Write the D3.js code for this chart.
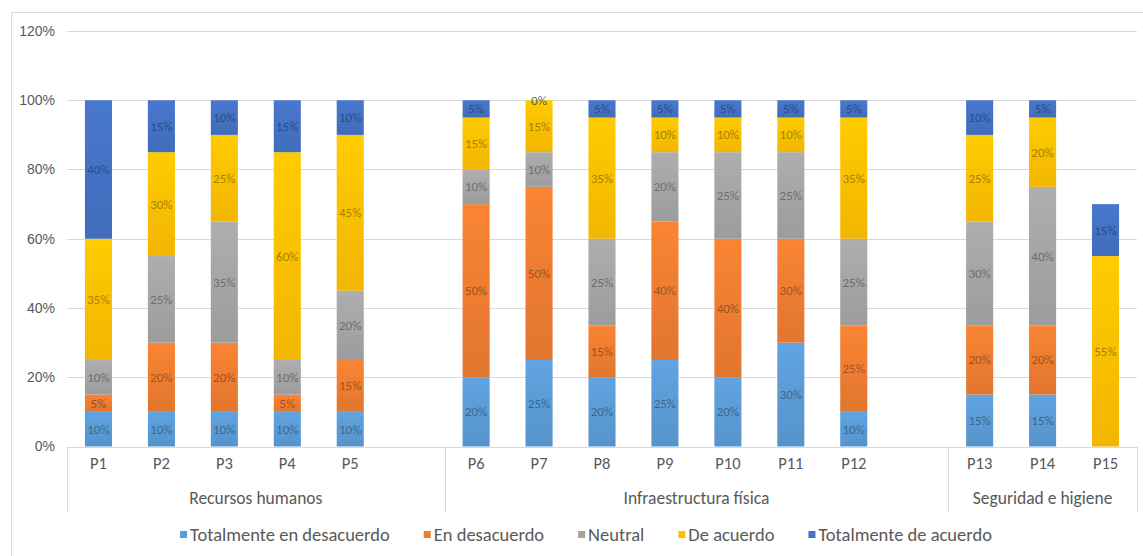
<!DOCTYPE html>
<html>
<head>
<meta charset="utf-8">
<script src="https://cdn.jsdelivr.net/npm/d3@7"></script>
<style>
  body { margin: 0; background: #fff; }
  svg { display: block; font-family: Carlito, "Liberation Sans", Arial, sans-serif; }
</style>
</head>
<body>
<svg id="chart" width="1143" height="556"></svg>
<script>
// data
const questions = ["P1", "P2", "P3", "P4", "P5", "P6", "P7", "P8", "P9", "P10", "P11", "P12", "P13", "P14", "P15"];
const groupNames = ["Recursos humanos", "Infraestructura física", "Seguridad e higiene"];
const groupSizes = [5, 7, 3];
const seriesNames = ["Totalmente en desacuerdo", "En desacuerdo", "Neutral", "De acuerdo", "Totalmente de acuerdo"];
const totDesacuerdo = [10, 10, 10, 10, 10, 20, 25, 20, 25, 20, 30, 10, 15, 15, null];
const enDesacuerdo = [5, 20, 20, 5, 15, 50, 50, 15, 40, 40, 30, 25, 20, 20, null];
const neutral = [10, 25, 35, 10, 20, 10, 10, 25, 20, 25, 25, 25, 30, 40, null];
const deAcuerdo = [35, 30, 25, 60, 45, 15, 15, 35, 10, 10, 10, 35, 25, 20, 55];
const totAcuerdo = [40, 15, 10, 15, 10, 5, 0, 5, 5, 5, 5, 5, 10, 5, 15];
const yTicks = [0, 0.2, 0.4, 0.6, 0.8, 1.0, 1.2];
const colors = ["#5b9bd5", "#ed7d31", "#a5a5a5", "#ffc000", "#4472c4"];

const series = [totDesacuerdo, enDesacuerdo, neutral, deAcuerdo, totAcuerdo];

// slots: each group followed by an empty slot (except last)
const slots = [];
let qi = 0;
groupSizes.forEach((n, g) => {
  for (let k = 0; k < n; k++) { slots.push(questions[qi]); qi++; }
  if (g < groupSizes.length - 1) slots.push("_blank" + g);
});

const svg = d3.select("#chart");
const pl = 67, pr = 1137, pt = 31, pb = 446.5;

const x = d3.scaleBand().domain(slots).range([pl, pr]).paddingInner(0.57).paddingOuter(0.285);
const y = d3.scaleLinear().domain([0, 1.2]).range([pb, pt]);

// chart border
svg.append("rect")
  .attr("x", 11.5).attr("y", 12.5).attr("width", 1150).attr("height", 560)
  .attr("fill", "#fff").attr("stroke", "#d9d9d9");

// gridlines
svg.append("g")
  .selectAll("line")
  .data(yTicks.filter(d => d > 0))
  .join("line")
  .attr("x1", pl).attr("x2", pr)
  .attr("y1", d => Math.round(y(d)) + 0.5).attr("y2", d => Math.round(y(d)) + 0.5)
  .attr("stroke", "#d9d9d9");

// y axis labels
const yaxis = d3.axisLeft(y).tickValues(yTicks).tickFormat(d3.format(".0%")).tickSize(0).tickPadding(12);
const yg = svg.append("g").attr("transform", `translate(${pl},0)`).call(yaxis);
yg.select(".domain").remove();
yg.selectAll("text").attr("fill", "#595959").attr("font-size", 14).attr("font-family", "inherit");

// gradients per series
const defs = svg.append("defs");
colors.forEach((c, i) => {
  const gr = defs.append("linearGradient").attr("id", "grad" + i)
    .attr("x1", 0).attr("y1", 0).attr("x2", 0).attr("y2", 1);
  gr.append("stop").attr("offset", "0%").attr("stop-color", d3.color(c).brighter(0.15));
  gr.append("stop").attr("offset", "100%").attr("stop-color", d3.color(c).darker(0.15));
});

// stacked data
const rows = questions.map((q, i) => {
  const r = { q };
  series.forEach((s, k) => { r[k] = s[i]; });
  return r;
});
const stack = d3.stack().keys(d3.range(series.length)).value((d, k) => (d[k] || 0) / 100);
const stacked = stack(rows);

const layers = svg.append("g").selectAll("g")
  .data(stacked)
  .join("g")
  .attr("fill", (d, i) => `url(#grad${i})`);

layers.selectAll("rect")
  .data(d => d)
  .join("rect")
  .attr("x", d => x(d.data.q))
  .attr("width", x.bandwidth())
  .attr("y", d => y(d[1]))
  .attr("height", d => y(d[0]) - y(d[1]));

// data labels
const labels = svg.append("g").attr("text-anchor", "middle").attr("font-size", 13);
stacked.forEach((layer, i) => {
  labels.selectAll(null)
    .data(layer.filter((d, j) => series[i][j] !== null))
    .join("text")
    .attr("x", d => x(d.data.q) + x.bandwidth() / 2)
    .attr("y", d => (y(d[0]) + y(d[1])) / 2)
    .attr("dy", "0.35em")
    .attr("fill", d3.color(colors[i]).darker(1.6))
    .attr("fill-opacity", 0.8)
    .text(d => d3.format(".0%")(d[1] - d[0]));
});

// x axis line
svg.append("line")
  .attr("x1", pl).attr("x2", pr)
  .attr("y1", Math.round(pb) + 0.5).attr("y2", Math.round(pb) + 0.5)
  .attr("stroke", "#d9d9d9");

// category labels
svg.append("g").selectAll("text")
  .data(questions)
  .join("text")
  .attr("x", d => x(d) + x.bandwidth() / 2)
  .attr("y", 469)
  .attr("text-anchor", "middle")
  .attr("font-size", 16.5)
  .attr("fill", "#595959")
  .text(d => d);

// group separators & labels
let start = 0;
const bounds = [pl];
groupSizes.forEach((n, g) => {
  const gx0 = bounds[bounds.length - 1];
  const gx1 = g < groupSizes.length - 1 ? x("_blank" + g) + x.bandwidth() + x.step() * x.paddingInner() / 2 : pr;
  bounds.push(gx1);
  svg.append("text")
    .attr("x", (gx0 + gx1) / 2)
    .attr("y", 504)
    .attr("text-anchor", "middle")
    .attr("font-size", 17.5)
    .attr("fill", "#595959")
    .text(groupNames[g]);
  start += n;
});
svg.append("g").selectAll("line")
  .data(bounds)
  .join("line")
  .attr("x1", d => Math.round(d) + 0.5).attr("x2", d => Math.round(d) + 0.5)
  .attr("y1", pb).attr("y2", 512)
  .attr("stroke", "#d9d9d9");

// legend
const legend = svg.append("g").attr("font-size", 18.5).attr("fill", "#595959");
const items = legend.selectAll("g").data(seriesNames).join("g");
items.append("rect").attr("width", 7).attr("height", 7).attr("y", -10).attr("fill", (d, i) => colors[i]);
items.append("text").attr("x", 10).attr("y", 0).text(d => d);
let lx = 0;
const gap = 34;
items.each(function () {
  const w = this.querySelector("text").getComputedTextLength() + 10;
  d3.select(this).attr("transform", `translate(${lx},541)`);
  lx += w + gap;
});
lx -= gap;
legend.attr("transform", `translate(${586 - lx / 2},0)`);
</script>
</body>
</html>
